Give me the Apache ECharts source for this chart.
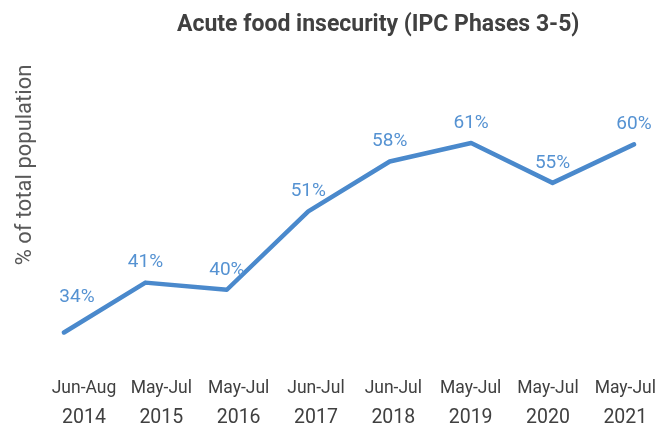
<!DOCTYPE html>
<html>
<head>
<meta charset="utf-8">
<script src="https://cdn.jsdelivr.net/npm/echarts@6/dist/echarts.min.js"></script>
<style>
  html, body { margin: 0; padding: 0; background: #fff; }
  #main { width: 659px; height: 428px; }
</style>
</head>
<body>
<div id="main"></div>
<script>
// periods and years for the x axis
const periods = ['Jun-Aug', 'May-Jul', 'May-Jul', 'Jun-Jul', 'Jun-Jul', 'May-Jul', 'May-Jul', 'May-Jul']
const years = ['2014', '2015', '2016', '2017', '2018', '2019', '2020', '2021']
// share of population in IPC phase 3-5 (%)
const values = [34, 41, 40, 51, 58, 60.6, 55, 60.4]

const categories = periods.map((p, i) => p + '\n' + years[i])

let chart = echarts.init(document.getElementById('main'))
chart.setOption({
  animation: false,
  title: {
    text: 'Acute food insecurity (IPC Phases 3-5)',
    left: 172,
    top: 9,
    textStyle: {
      fontFamily: 'Roboto',
      fontWeight: 'bold',
      fontSize: 23,
      color: '#404040'
    }
  },
  graphic: [{
    type: 'text',
    x: 25,
    y: 165,
    rotation: Math.PI / 2,
    style: {
      text: '% of total population',
      fontFamily: 'Roboto',
      fontSize: 22,
      fill: '#595959',
      textAlign: 'center',
      textVerticalAlign: 'middle'
    }
  }],
  grid: [
    { left: 64, right: 25, top: 76, height: 285 },
    { left: 84, right: 33, top: 76, height: 285 }
  ],
  xAxis: [{
    gridIndex: 0,
    type: 'category',
    boundaryGap: false,
    data: categories,
    axisLine: { show: false },
    axisTick: { show: false },
    axisLabel: { show: false }
  }, {
    gridIndex: 1,
    type: 'category',
    boundaryGap: false,
    data: categories,
    axisLine: { show: false },
    axisTick: { show: false },
    axisLabel: {
      margin: 16,
      interval: 0,
      color: '#404040',
      formatter: v => {
        const parts = v.split('\n')
        return '{p|' + parts[0] + '}\n{y|' + parts[1] + '}'
      },
      rich: {
        p: { fontFamily: 'Roboto', fontSize: 17.5, lineHeight: 28, color: '#404040' },
        y: { fontFamily: 'Roboto', fontSize: 19.5, lineHeight: 30, color: '#404040' }
      }
    }
  }],
  yAxis: [{
    gridIndex: 0,
    type: 'value',
    min: 30,
    max: 70,
    show: false
  }, {
    gridIndex: 1,
    type: 'value',
    min: 30,
    max: 70,
    show: false
  }],
  series: [{
    type: 'line',
    xAxisIndex: 0,
    yAxisIndex: 0,
    showSymbol: true,
    symbol: 'circle',
    symbolSize: 1,
    itemStyle: { color: 'rgba(0,0,0,0)' },
    lineStyle: { color: '#4a89cc', width: 4.5, cap: 'round', join: 'round' },
    label: {
      show: true,
      position: 'top',
      distance: 10,
      fontFamily: 'Roboto',
      fontSize: 19,
      color: '#5592d2',
      formatter: p => Math.round(p.value) + '%'
    },
    data: values.map((v, i) => i === 0 ? { value: v, label: { offset: [13, -15] } } : v)
  }]
})
</script>
</body>
</html>
